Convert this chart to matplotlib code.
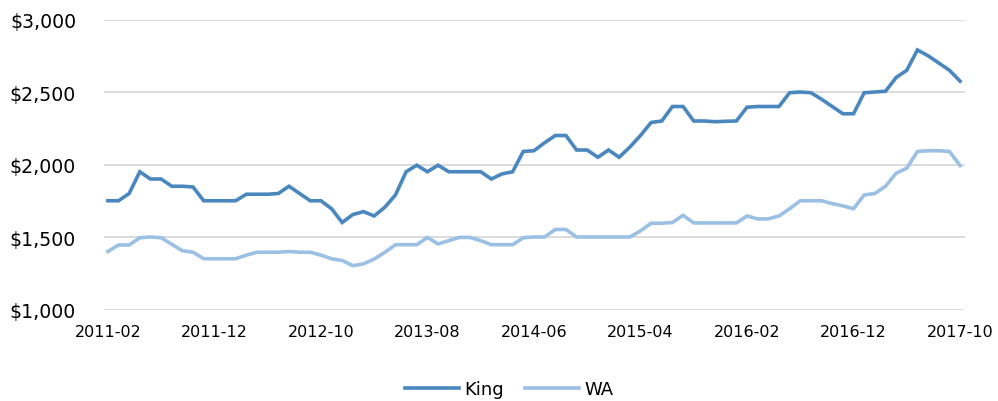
import numpy as np
import pandas as pd
import matplotlib
matplotlib.use("Agg")
import matplotlib.pyplot as plt

# monthly series, 2011-02 .. 2017-10
months = pd.date_range("2011-02-01", "2017-10-01", freq="MS").strftime("%Y-%m").tolist()

king = [1750, 1750, 1800, 1950, 1900, 1900, 1850, 1850, 1845, 1750,
        1750, 1750, 1750, 1795, 1795, 1795, 1800, 1850, 1800, 1750,
        1750, 1695, 1600, 1655, 1675, 1645, 1705, 1790, 1950, 1995,
        1950, 1995, 1950, 1950, 1950, 1950, 1900, 1935, 1950, 2090,
        2095, 2150, 2200, 2200, 2100, 2100, 2050, 2100, 2050, 2120,
        2200, 2290, 2300, 2400, 2400, 2300, 2300, 2295, 2298, 2300,
        2395, 2400, 2400, 2400, 2495, 2500, 2495, 2450, 2400, 2350,
        2350, 2495, 2500, 2505, 2600, 2650, 2790, 2750, 2700, 2650,
        2575]

wa = [1400, 1445, 1445, 1495, 1500, 1495, 1450, 1405, 1395, 1350,
      1350, 1350, 1350, 1375, 1395, 1395, 1395, 1400, 1395, 1395,
      1375, 1350, 1338, 1302, 1315, 1348, 1394, 1447, 1447, 1447,
      1497, 1452, 1475, 1497, 1497, 1475, 1447, 1447, 1447, 1495,
      1500, 1500, 1552, 1552, 1500, 1500, 1500, 1500, 1500, 1500,
      1542, 1595, 1595, 1600, 1650, 1597, 1597, 1597, 1597, 1597,
      1645, 1625, 1625, 1645, 1695, 1750, 1750, 1750, 1730, 1715,
      1695, 1790, 1800, 1850, 1940, 1975, 2090, 2095, 2095, 2090,
      1993]

yticks = [1000, 1500, 2000, 2500, 3000]

plt.rcParams['font.family'] = ['DejaVu Sans']

fig = plt.figure(figsize=(9.98, 4.02), dpi=100)
ax = fig.add_axes([0.104, 0.2276, 0.863, 0.7214])

x = np.arange(len(months))
ax.plot(x, king, color='#4A87BF', lw=2.6, label='King', solid_joinstyle='miter')
ax.plot(x, wa, color='#9BC0E4', lw=2.6, label='WA', solid_joinstyle='miter')

ax.set_ylim(1000, 3000)
ax.set_yticks(yticks)
ax.set_yticklabels(['${:,}'.format(v) for v in yticks])
ax.set_xlim(-0.38, len(months) - 1 + 0.47)
ax.set_xticks(x[::10])
ax.set_xticklabels(months[::10])

ax.grid(axis='y', color='#D9D9D9', lw=1.3)
ax.set_axisbelow(True)
for s in ax.spines.values():
    s.set_visible(False)
ax.tick_params(length=0, colors='#000000')
ax.tick_params(axis='y', labelsize=13.6, pad=20)
ax.tick_params(axis='x', labelsize=11.5, pad=10.5)

fig.legend(loc='center', bbox_to_anchor=(0.51, 0.03), ncol=2, frameon=False,
           fontsize=13, handlelength=3.0, handletextpad=0.28, columnspacing=1.16)

fig.savefig('out.png', dpi=100)
